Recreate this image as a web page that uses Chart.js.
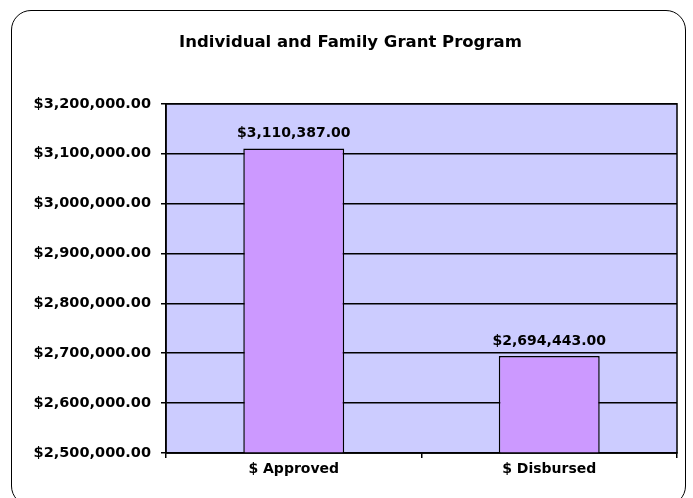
<!DOCTYPE html>
<html>
<head>
<meta charset="utf-8">
<script src="https://cdn.jsdelivr.net/npm/chart.js@4/dist/chart.umd.min.js"></script>
<style>
  html, body { margin: 0; padding: 0; background: #fff; }
  #wrap { position: relative; width: 693px; height: 498px; overflow: hidden; }
  #frame {
    position: absolute; left: 11px; top: 10px; width: 673px; height: 494px;
    border: 1.5px solid #000; border-radius: 20px; pointer-events: none;
  }
</style>
</head>
<body>
<div id="wrap">
  <canvas id="grantChart" width="693" height="498"></canvas>
  <div id="frame"></div>
</div>
<script>
// chart data
const categories = ["$ Approved", "$ Disbursed"];
const amounts = [3110387, 2694443];
const yMin = 2500000;
const yMax = 3200000;
const yStep = 100000;

function money(v) {
    return "$" + v.toLocaleString("en-US", { minimumFractionDigits: 2, maximumFractionDigits: 2 });
}

// lavender plot area with black border
const plotBackground = {
    id: "plotBackground",
    beforeDraw(chart) {
        const { ctx, chartArea: a } = chart;
        ctx.save();
        ctx.fillStyle = "#CCCCFF";
        ctx.fillRect(a.left, a.top, a.right - a.left, a.bottom - a.top);
        ctx.restore();
    },
    afterDraw(chart) {
        const { ctx, chartArea: a } = chart;
        ctx.save();
        ctx.strokeStyle = "#000";
        ctx.lineWidth = 1.5;
        ctx.strokeRect(a.left, a.top, a.right - a.left, a.bottom - a.top);
        ctx.restore();
    }
};

// value labels above each bar
const barLabels = {
    id: "barLabels",
    afterDatasetsDraw(chart) {
        const { ctx } = chart;
        const meta = chart.getDatasetMeta(0);
        ctx.save();
        ctx.font = "bold 14px 'DejaVu Sans'";
        ctx.fillStyle = "#000";
        ctx.textAlign = "center";
        ctx.textBaseline = "bottom";
        meta.data.forEach((bar, i) => {
            ctx.fillText(money(amounts[i]), bar.x, bar.y - 8);
        });
        ctx.restore();
    }
};

const ctx = document.getElementById("grantChart").getContext("2d");
new Chart(ctx, {
    type: "bar",
    data: {
        labels: categories,
        datasets: [{
            data: amounts,
            backgroundColor: "#CC99FF",
            borderColor: "#000",
            borderWidth: 1.5,
            borderSkipped: false,
            categoryPercentage: 1,
            barPercentage: 0.395
        }]
    },
    options: {
        responsive: false,
        animation: false,
        layout: { padding: { top: 0, right: 16, bottom: 0, left: 24 } },
        plugins: {
            legend: { display: false },
            tooltip: { enabled: false },
            title: {
                display: true,
                text: "Individual and Family Grant Program",
                color: "#000",
                font: { family: "DejaVu Sans", size: 16.5, weight: "bold" },
                padding: { top: 33, bottom: 51 }
            }
        },
        scales: {
            x: {
                offset: true,
                grid: { offset: true, drawOnChartArea: false, color: "#000", tickLength: 5, lineWidth: 1.5 },
                border: { color: "#000", width: 1.5 },
                ticks: { color: "#000", padding: 3, font: { family: "DejaVu Sans", size: 14, weight: "bold" } },
                afterFit(scale) { scale.height = 45; }
            },
            y: {
                min: yMin,
                max: yMax,
                grid: { color: "#000", tickLength: 5, lineWidth: 1.5 },
                border: { color: "#000", width: 1.5 },
                ticks: {
                    stepSize: yStep,
                    color: "#000",
                    padding: 10,
                    font: { family: "DejaVu Sans", size: 14.5, weight: "bold" },
                    callback: (v) => money(v)
                },
                afterFit(scale) { scale.width = 142; }
            }
        }
    },
    plugins: [plotBackground, barLabels]
});
</script>
</body>
</html>
